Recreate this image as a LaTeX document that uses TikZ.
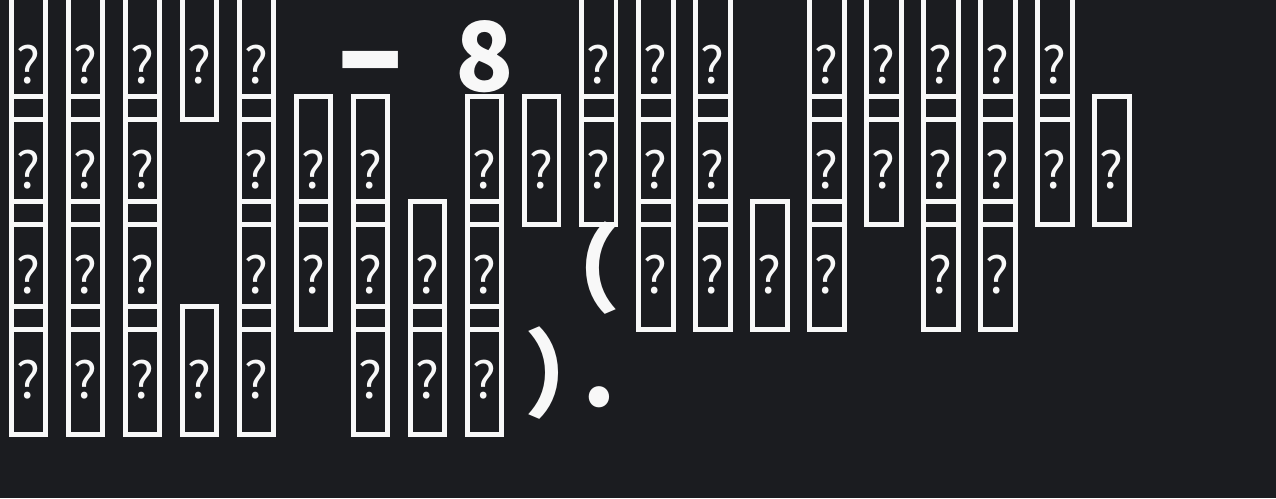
\documentclass[tikz,border=0pt]{standalone}
\usepackage{fontspec}
\usepackage{tikz}
\newfontfamily\cjkfont{Noto Sans CJK SC}
\definecolor{bgdark}{RGB}{27,28,32}
\definecolor{ink}{RGB}{248,248,248}
\newcommand{\qfont}{\cjkfont\fontsize{28.7pt}{30pt}\selectfont}
\newcommand{\bigfont}{\cjkfont\bfseries\fontsize{54.6pt}{60pt}\selectfont}

\begin{document}
\begin{tikzpicture}[x=0.02cm, y=0.02cm,
  tofu/.style={draw=ink, text=ink, line width=0.1cm, inner sep=0pt,
    minimum width=0.7cm, minimum height=2.56cm,
    text height=1.1cm, text depth=0pt, font=\qfont},
  txt/.style={text=ink, inner sep=0pt, font=\bigfont}]
\useasboundingbox (0,0) rectangle (1276,-498);
\fill [bgdark] (0,0) rectangle (1276,-498);
\clip (0,0) rectangle (1276,-498);
% first line
\node [tofu] (r1c0) at (28.5,-55.5) {?};
\node [tofu] (r1c1) at (85.5,-55.5) {?};
\node [tofu] (r1c2) at (142.5,-55.5) {?};
\node [tofu] (r1c3) at (199.5,-55.5) {?};
\node [tofu] (r1c4) at (256.5,-55.5) {?};
\node [txt, anchor=base, xscale=0.71, yscale=1.6, transform shape] (dash) at (370.5,-104.5) {—};
\node [txt, anchor=base] (eight) at (484.5,-91) {8};
\node [tofu] (r1c10) at (598.5,-55.5) {?};
\node [tofu] (r1c11) at (655.5,-55.5) {?};
\node [tofu] (r1c12) at (712.5,-55.5) {?};
\node [tofu] (r1c14) at (826.5,-55.5) {?};
\node [tofu] (r1c15) at (883.5,-55.5) {?};
\node [tofu] (r1c16) at (940.5,-55.5) {?};
\node [tofu] (r1c17) at (997.5,-55.5) {?};
\node [tofu] (r1c18) at (1054.5,-55.5) {?};
% second line
\node [tofu] (r2c0) at (28.5,-160.5) {?};
\node [tofu] (r2c1) at (85.5,-160.5) {?};
\node [tofu] (r2c2) at (142.5,-160.5) {?};
\node [tofu] (r2c4) at (256.5,-160.5) {?};
\node [tofu] (r2c5) at (313.5,-160.5) {?};
\node [tofu] (r2c6) at (370.5,-160.5) {?};
\node [tofu] (r2c8) at (484.5,-160.5) {?};
\node [tofu] (r2c9) at (541.5,-160.5) {?};
\node [tofu] (r2c10) at (598.5,-160.5) {?};
\node [tofu] (r2c11) at (655.5,-160.5) {?};
\node [tofu] (r2c12) at (712.5,-160.5) {?};
\node [tofu] (r2c14) at (826.5,-160.5) {?};
\node [tofu] (r2c15) at (883.5,-160.5) {?};
\node [tofu] (r2c16) at (940.5,-160.5) {?};
\node [tofu] (r2c17) at (997.5,-160.5) {?};
\node [tofu] (r2c18) at (1054.5,-160.5) {?};
\node [tofu] (r2c19) at (1111.5,-160.5) {?};
% third line
\node [tofu] (r3c0) at (28.5,-265.5) {?};
\node [tofu] (r3c1) at (85.5,-265.5) {?};
\node [tofu] (r3c2) at (142.5,-265.5) {?};
\node [tofu] (r3c4) at (256.5,-265.5) {?};
\node [tofu] (r3c5) at (313.5,-265.5) {?};
\node [tofu] (r3c6) at (370.5,-265.5) {?};
\node [tofu] (r3c7) at (427.5,-265.5) {?};
\node [tofu] (r3c8) at (484.5,-265.5) {?};
\node [txt, anchor=base east] (lparen) at (621,-304) {（};
\node [tofu] (r3c11) at (655.5,-265.5) {?};
\node [tofu] (r3c12) at (712.5,-265.5) {?};
\node [tofu] (r3c13) at (769.5,-265.5) {?};
\node [tofu] (r3c14) at (826.5,-265.5) {?};
\node [tofu] (r3c16) at (940.5,-265.5) {?};
\node [tofu] (r3c17) at (997.5,-265.5) {?};
% fourth line
\node [tofu] (r4c0) at (28.5,-370.5) {?};
\node [tofu] (r4c1) at (85.5,-370.5) {?};
\node [tofu] (r4c2) at (142.5,-370.5) {?};
\node [tofu] (r4c3) at (199.5,-370.5) {?};
\node [tofu] (r4c4) at (256.5,-370.5) {?};
\node [tofu] (r4c6) at (370.5,-370.5) {?};
\node [tofu] (r4c7) at (427.5,-370.5) {?};
\node [tofu] (r4c8) at (484.5,-370.5) {?};
\node [txt, anchor=base west] (rparen) at (524,-409) {）};
\node [txt, anchor=base] (stop) at (599,-406) {.};
\end{tikzpicture}
\end{document}
